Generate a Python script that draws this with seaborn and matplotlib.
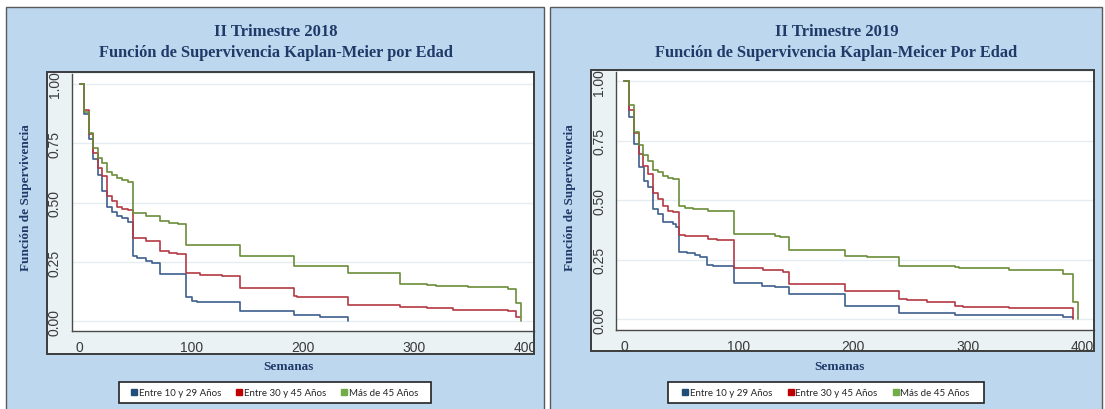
import pandas as pd
import matplotlib.pyplot as plt
import seaborn as sns
from matplotlib.patches import Rectangle
from matplotlib.lines import Line2D
from matplotlib.ticker import FormatStrFormatter
from matplotlib.transforms import Bbox, TransformedBbox

# --- datos (curvas Kaplan-Meier) ---
grupos = ["Entre 10 y 29 Años", "Entre 30 y 45 Años", "Más de 45 Años"]

# II Trimestre 2018
t18_joven = [0, 3.6, 8.1, 12.0, 16.2, 20.3, 24.5, 29.0, 33.5, 38.0, 43.0, 47.8, 51.4, 59.8, 64.9,
             71.7, 95.3, 100.7, 105.2, 143.4, 191.8, 215.7, 240.2]
s18_joven = [1.0, 0.874, 0.768, 0.684, 0.617, 0.551, 0.480, 0.462, 0.445, 0.434, 0.417, 0.277, 0.268,
             0.256, 0.246, 0.199, 0.101, 0.087, 0.083, 0.042, 0.027, 0.020, 0.0]
t18_medio = [0, 4.2, 8.7, 12.0, 16.2, 20.3, 24.5, 29.0, 33.5, 38.0, 43.0, 47.8, 59.8, 71.7, 79.8,
             87.3, 95.3, 108.2, 127.6, 143.4, 191.8, 194.8, 240.2, 287.4, 311.3, 335.0, 383.9, 391.3, 395.0]
s18_medio = [1.0, 0.89, 0.789, 0.708, 0.645, 0.611, 0.527, 0.508, 0.480, 0.473, 0.469, 0.351, 0.339,
             0.298, 0.288, 0.284, 0.202, 0.197, 0.190, 0.139, 0.105, 0.101, 0.070, 0.059, 0.055, 0.048,
             0.042, 0.019, 0.019]
t18_mayor = [0, 3.6, 8.1, 12.0, 16.2, 20.3, 24.5, 29.0, 33.5, 38.0, 43.0, 47.8, 59.8, 72.3, 79.8,
             87.8, 95.3, 143.4, 191.8, 240.2, 287.4, 311.3, 319.3, 348.0, 383.9, 391.3, 395.5]
s18_mayor = [1.0, 0.88, 0.793, 0.729, 0.687, 0.666, 0.628, 0.617, 0.604, 0.594, 0.586, 0.455, 0.445,
             0.421, 0.414, 0.408, 0.322, 0.277, 0.232, 0.202, 0.157, 0.153, 0.149, 0.145, 0.137, 0.076, 0.0]

# II Trimestre 2019
t19_joven = [0, 4.4, 8.7, 12.8, 17.2, 21.0, 24.8, 29.2, 33.5, 42.8, 45.2, 48.0, 54.5, 61.7, 66.0,
             72.0, 77.8, 95.8, 120.0, 131.6, 143.8, 192.8, 240.2, 288.8, 383.4, 392.2]
s19_joven = [1.0, 0.849, 0.736, 0.638, 0.582, 0.554, 0.463, 0.442, 0.409, 0.400, 0.386, 0.283, 0.276,
             0.271, 0.262, 0.228, 0.222, 0.151, 0.140, 0.133, 0.105, 0.053, 0.025, 0.017, 0.007, 0.004]
t19_medio = [0, 4.4, 8.7, 12.8, 16.6, 21.0, 24.8, 29.2, 33.5, 37.9, 42.8, 48.0, 53.0, 73.4, 80.7,
             95.8, 120.9, 138.9, 143.8, 192.8, 240.2, 247.2, 264.0, 288.8, 296.0, 336.3, 392.2]
s19_medio = [1.0, 0.879, 0.781, 0.694, 0.645, 0.610, 0.530, 0.505, 0.477, 0.456, 0.449, 0.353, 0.349,
             0.337, 0.332, 0.213, 0.206, 0.199, 0.147, 0.119, 0.084, 0.079, 0.073, 0.056, 0.052, 0.045, 0.0]
t19_mayor = [0, 4.4, 8.7, 12.8, 16.6, 21.0, 24.8, 29.2, 33.5, 37.9, 42.8, 48.0, 53.0, 60.3, 73.4,
             95.8, 131.6, 136.0, 143.8, 192.8, 212.2, 240.2, 288.8, 292.0, 336.3, 383.4, 392.2, 396.0]
s19_mayor = [1.0, 0.90, 0.788, 0.732, 0.690, 0.666, 0.627, 0.617, 0.600, 0.595, 0.589, 0.477, 0.467,
             0.463, 0.454, 0.356, 0.351, 0.344, 0.292, 0.266, 0.259, 0.224, 0.217, 0.213, 0.208, 0.189,
             0.070, 0.0]

x_ticks = [0, 100, 200, 300, 400]
y_ticks = [0.0, 0.25, 0.5, 0.75, 1.0]

line_colors = ["#3d5f8c", "#b33a44", "#6a8d3a"]
legend_colors = ["#1f4e79", "#c00000", "#70ad47"]
panel_bg = "#bdd7ee"
region_bg = "#eaf2f3"
title_color = "#1f3a68"

W, H = 1105, 410


def fx(px):
    return px / W


def fy(py):
    return 1 - py / H


def build_df(ts, ss):
    rows = []
    for g, t, s in zip(grupos, ts, ss):
        rows.append(pd.DataFrame({"Semanas": t, "Supervivencia": s, "Edad": g}))
    return pd.concat(rows, ignore_index=True)


def draw_panel(fig, df, p):
    # panel azul
    fig.add_artist(Rectangle((fx(p["panel"][0]), fy(420)), fx(p["panel"][1] - p["panel"][0]),
                             (420 - p["panel"][2]) / H, transform=fig.transFigure,
                             facecolor=panel_bg, edgecolor="#5a5a5a", lw=1.0, zorder=-3))
    fl, ft, fr, fb = p["frame"]
    fig.add_artist(Rectangle((fx(fl), fy(fb)), fx(fr - fl), (fb - ft) / H, transform=fig.transFigure,
                             facecolor=region_bg, edgecolor="none", zorder=-2))
    fig.add_artist(Rectangle((fx(fl), fy(fb)), fx(fr - fl), (fb - ft) / H, transform=fig.transFigure,
                             facecolor="none", edgecolor="#3c3c3c", lw=1.4, zorder=5))

    al, at, ar, ab = p["axes"]
    ax = fig.add_axes([fx(al), fy(ab), fx(ar - al), (ab - at) / H])
    ax.set_facecolor("white")
    sns.lineplot(data=df, x="Semanas", y="Supervivencia", hue="Edad", palette=line_colors,
                 estimator=None, drawstyle="steps-post", lw=1.2, legend=False, ax=ax)
    ax.set_xlim(p["xlim"])
    ax.set_ylim(p["ylim"])
    ax.set_xticks(x_ticks)
    ax.set_yticks(y_ticks)
    ax.yaxis.set_major_formatter(FormatStrFormatter("%.2f"))
    ax.set_xlabel("")
    ax.set_ylabel("")
    ax.grid(False)
    ax.yaxis.grid(True, color="#e4eef0", lw=1.0)
    for s in ["top", "right"]:
        ax.spines[s].set_visible(False)
    for s in ["left", "bottom"]:
        ax.spines[s].set_color("#4a4a4a")
        ax.spines[s].set_linewidth(1.0)
    ax.tick_params(axis="both", direction="out", length=4, width=0.9, color="#4a4a4a",
                   labelsize=10, labelcolor="#3a3a3a", pad=3)
    ax.tick_params(axis="y", labelrotation=90)
    for lab in ax.get_yticklabels():
        lab.set_va("center")
        lab.set_fontfamily("Liberation Sans")
    for lab in ax.get_xticklabels():
        lab.set_fontfamily("Liberation Sans")

    # recorte de etiquetas por el marco (como en el original)
    clip = TransformedBbox(Bbox([[fx(fl), fy(fb)], [fx(fr), fy(ft)]]), fig.transFigure)
    for lab in ax.get_xticklabels() + ax.get_yticklabels():
        lab.set_clip_box(clip)
        lab.set_clip_on(True)

    # titulos y etiquetas
    fig.text(fx(p["title_x"]), fy(31.5), p["title1"], ha="center", va="center", fontsize=12,
             fontweight="bold", family="Liberation Serif", color=title_color)
    fig.text(fx(p["title_x"]), fy(53), p["title2"], ha="center", va="center", fontsize=11.8,
             fontweight="bold", family="Liberation Serif", color=title_color)
    fig.text(fx(p["ylab_x"]), fy(198), "Función de Supervivencia", rotation=90, ha="center",
             va="center", fontsize=9.5, fontweight="bold", family="Liberation Serif", color=title_color)
    fig.text(fx(p["xlab_x"]), fy(367), "Semanas", ha="center", va="center", fontsize=9.5,
             fontweight="bold", family="Liberation Serif", color=title_color)

    # leyenda
    ll, lr = p["legend"]
    fig.add_artist(Rectangle((fx(ll), fy(404.3)), fx(lr - ll), 21 / H, transform=fig.transFigure,
                             facecolor="white", edgecolor="#222222", lw=1.2, zorder=4))
    handles = [Line2D([], [], marker="s", linestyle="", markersize=5, color=c) for c in legend_colors]
    fig.legend(handles, grupos, loc="center", bbox_to_anchor=(fx((ll + lr) / 2), fy(393.8)), ncol=3,
               frameon=False, prop={"family": "Lato", "size": 7}, handlelength=0.6,
               handletextpad=0.15, columnspacing=1.6, borderpad=0.2)
    return ax


def main():
    sns.set_style("white")
    fig = plt.figure(figsize=(W / 100, H / 100), dpi=100)

    df18 = build_df([t18_joven, t18_medio, t18_mayor], [s18_joven, s18_medio, s18_mayor])
    df19 = build_df([t19_joven, t19_medio, t19_mayor], [s19_joven, s19_medio, s19_mayor])

    left = dict(panel=(5.7, 544.3, 7.7), frame=(46.5, 72.7, 534.3, 355.0),
                axes=(71.5, 75.0, 534.3, 331.7), xlim=(-7.3, 407.7), ylim=(-0.0396, 1.042),
                title_x=276, title1="II Trimestre 2018",
                title2="Función de Supervivencia Kaplan-Meier por Edad",
                ylab_x=26, xlab_x=288, legend=(119, 430.5))
    right = dict(panel=(550, 1101.7, 7.7), frame=(590.7, 71.0, 1094.3, 352.3),
                 axes=(616.2, 73.0, 1094.3, 330.7), xlim=(-7.1, 410.5), ylim=(-0.0450, 1.039),
                 title_x=836.5, title1="II Trimestre 2019",
                 title2="Función de Supervivencia Kaplan-Meicer Por Edad",
                 ylab_x=570, xlab_x=839.6, legend=(667.5, 984.3))

    draw_panel(fig, df18, left)
    draw_panel(fig, df19, right)

    fig.savefig("out.png", dpi=100, facecolor="white")


if __name__ == "__main__":
    main()
